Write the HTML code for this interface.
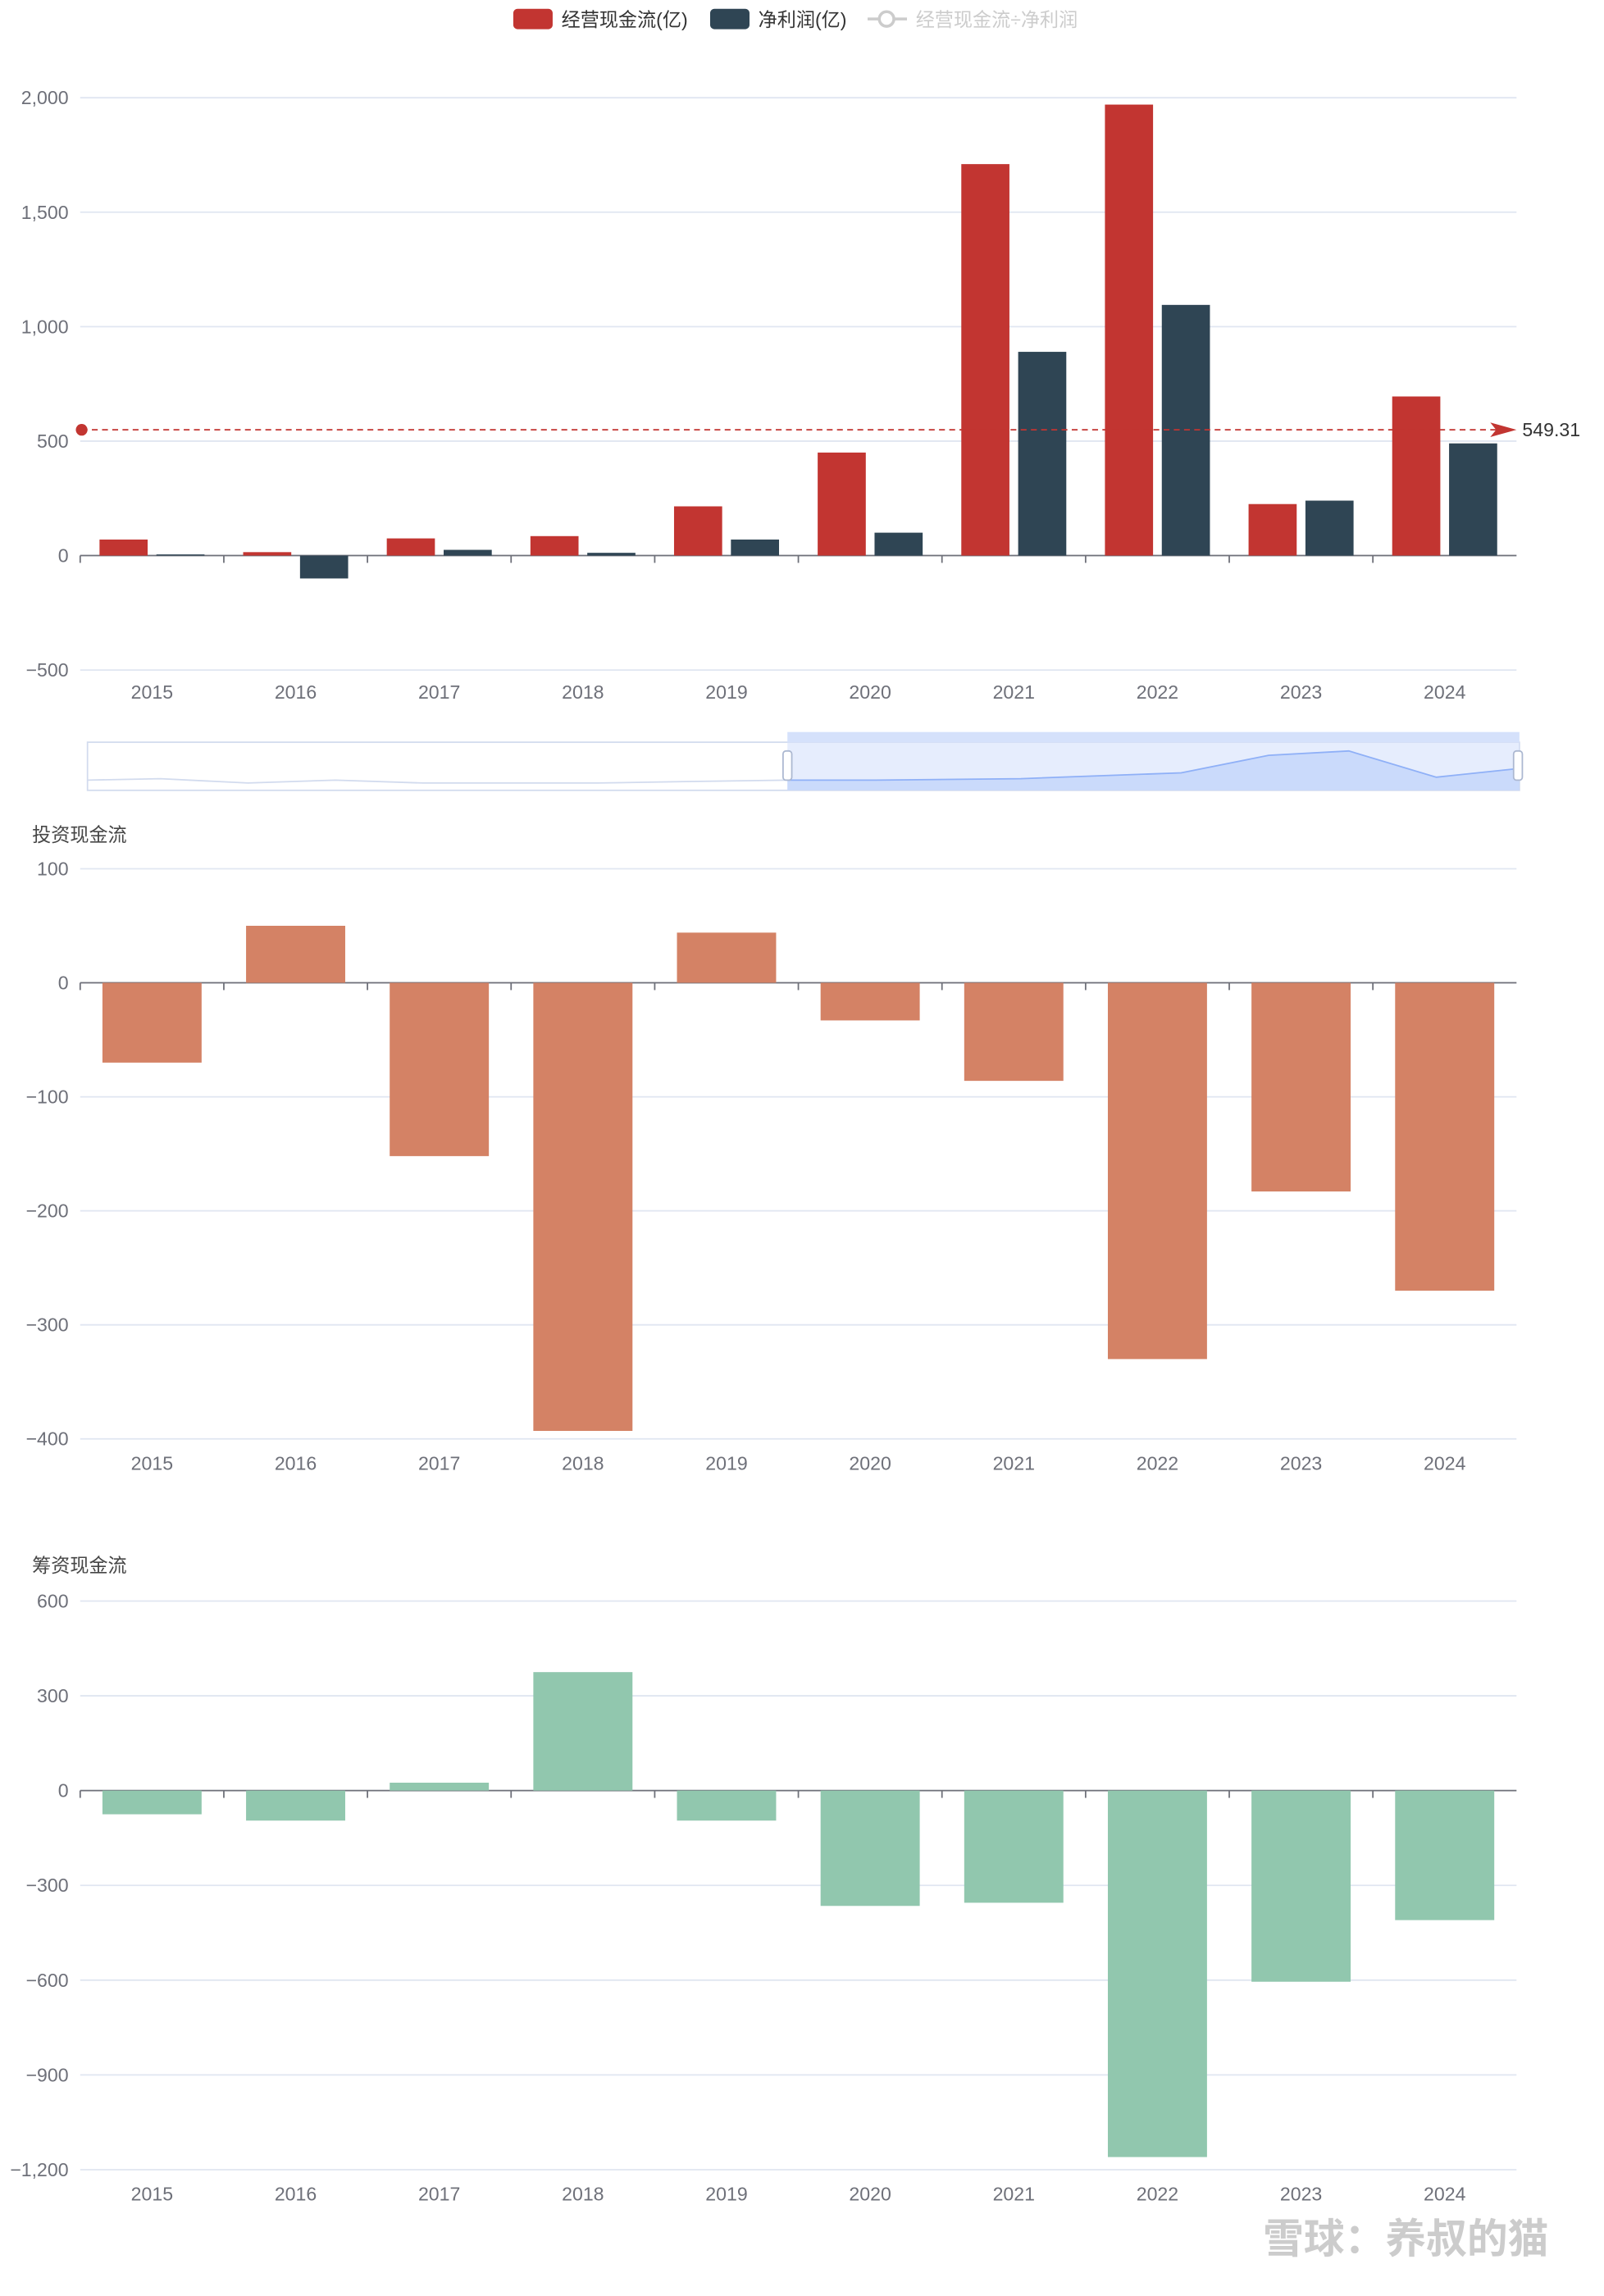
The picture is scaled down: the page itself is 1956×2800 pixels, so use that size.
<!DOCTYPE html>
<html><head><meta charset="utf-8"><style>
html,body{margin:0;padding:0;background:#fff;}
svg{display:block;font-family:"Liberation Sans","Noto Sans CJK SC",sans-serif;}
</style></head><body>
<svg id="svg" width="1956" height="2800" viewBox="0 0 1100 1574.6" xmlns="http://www.w3.org/2000/svg">
<g id="legend">
  <g><rect x="352" y="6" width="27" height="14" rx="3" fill="#c23531"/><text x="385" y="18" font-size="13" fill="#333">经营现金流(亿)</text></g>
  <g><rect x="487" y="6" width="27" height="14" rx="3" fill="#2f4554"/><text x="520" y="18" font-size="13" fill="#333">净利润(亿)</text></g>
  <g><line x1="595" y1="13" x2="622" y2="13" stroke="#ccc" stroke-width="2"/><circle cx="608" cy="13" r="5" fill="#fff" stroke="#ccc" stroke-width="2"/><text x="628" y="18" font-size="13" fill="#ccc">经营现金流÷净利润</text></g>
</g>
<g id="c1"></g>
<g id="zoom">
  <rect x="60" y="509" width="982" height="33" fill="none" stroke="#d2dbee"/>
  <path d="M60 535 L110 534 L170 537 L230 535 L290 537 L350 537 L410 537 L470 536 L540 535" stroke="#d2dbee" fill="none"/>
  <rect x="540" y="509" width="502" height="33" fill="#d5e1fb" opacity="0.6"/>
  <rect x="540" y="502" width="502" height="7" fill="#d5e1fb"/>
  <path d="M540 535 L600 535 L700 534 L810 530 L870 518 L925 515 L985 533 L1042 527 L1042 542 L540 542Z" fill="#c3d5fa" opacity="0.8"/>
  <path d="M540 535 L600 535 L700 534 L810 530 L870 518 L925 515 L985 533 L1042 527" stroke="#8fb0f7" fill="none"/>
  <rect x="537" y="515" width="6" height="20" rx="2" fill="#fff" stroke="#acb8d1"/>
  <rect x="1038" y="515" width="6" height="20" rx="2" fill="#fff" stroke="#acb8d1"/>
</g>
<g id="c2"></g>
<g id="c3"></g>
<text x="1062" y="1545" font-size="28" fill="#ccc" text-anchor="end" font-weight="bold">雪球：养叔的猫</text>
</svg>
<script>
const years=['2015','2016','2017','2018','2019','2020','2021','2022','2023','2024'];
const opCF=[70,15,75,85,215,450,1710,1970,225,695];
const netProfit=[5,-100,25,12,70,100,890,1095,240,490];
const avgOpCF=549.31;
const ticks1=[-500,0,500,1000,1500,2000];
const investCF=[-70,50,-152,-393,44,-33,-86,-330,-183,-270];
const ticks2=[-400,-300,-200,-100,0,100];
const financeCF=[-75,-95,25,375,-95,-365,-355,-1160,-605,-410];
const ticks3=[-1200,-900,-600,-300,0,300,600];

const NS='http://www.w3.org/2000/svg';
function mk(parent,tag,attrs,txt){const e=document.createElementNS(NS,tag);for(const k in attrs)e.setAttribute(k,attrs[k]);if(txt!==undefined)e.textContent=txt;parent.appendChild(e);return e;}
const x0=55,x1=1040,step=(x1-x0)/years.length;
const xc=i=>x0+step*(i+0.5);
function fmt(v){return (v<0?'−':'')+Math.abs(v).toLocaleString('en-US');}
function axes(g,ticks,y,yTop,yBot,labelY){
  ticks.forEach(t=>{
    const l=mk(g,'line',{x1:x0,x2:x1,y1:y(t),y2:y(t),stroke:'#e0e6f1'});
    
    
    const tx=mk(g,'text',{x:47,y:y(t)+4.5,'font-size':13,fill:'#6e7079','text-anchor':'end'},fmt(t));
    
    
  });
  const ax=mk(g,'line',{x1:x0,x2:x1,y1:y(0),y2:y(0),stroke:'#6e7079'});
  
  
  years.forEach((yr,i)=>{
    mk(g,'line',{x1:x0+step*i,x2:x0+step*i,y1:y(0),y2:y(0)+5,stroke:'#6e7079'});
    const t=mk(g,'text',{x:xc(i),y:labelY,'font-size':13,fill:'#6e7079','text-anchor':'middle'},yr);
    
    
  });
}
function bar(g,cx,w,v,y,color,name){
  const a=y(0),b=y(v);
  const r=mk(g,'rect',{x:cx-w/2,y:Math.min(a,b),width:w,height:Math.abs(a-b),fill:color});
  
  
}
// chart 1
(function(){
  const g=document.getElementById('c1');
  const y=v=>381-v*0.157;
  axes(g,ticks1,y,67,459,479);
  years.forEach((yr,i)=>{
    bar(g,xc(i)-19.5,33,opCF[i],y,'#c23531','bar-operating-cf-'+yr);
    bar(g,xc(i)+19.5,33,netProfit[i],y,'#2f4554','bar-net-profit-'+yr);
  });
  const ay=y(avgOpCF);
  const l=mk(g,'line',{x1:56,x2:1028,y1:ay,y2:ay,stroke:'#c23531','stroke-dasharray':'4,3'});
  
  
  mk(g,'circle',{cx:56,cy:ay,r:4,fill:'#c23531'});
  mk(g,'path',{d:`M1022 ${ay-5} L1040 ${ay} L1022 ${ay+5} L1026 ${ay}Z`,fill:'#c23531'});
  const t=mk(g,'text',{x:1044,y:ay+4.5,'font-size':13,fill:'#333'},avgOpCF.toFixed(2));
  
  
})();
// chart 2
(function(){
  const g=document.getElementById('c2');
  const y=v=>674-v*0.782;
  const tt=mk(g,'text',{x:22,y:577,'font-size':13,fill:'#464646'},'投资现金流');
  
  
  axes(g,ticks2,y,596,987,1008);
  years.forEach((yr,i)=>bar(g,xc(i),68,investCF[i],y,'#d48265','bar-investing-cf-'+yr));
})();
// chart 3
(function(){
  const g=document.getElementById('c3');
  const y=v=>1228-v*(130/600);
  const tt=mk(g,'text',{x:22,y:1078,'font-size':13,fill:'#464646'},'筹资现金流');
  
  
  axes(g,ticks3,y,1098,1489,1509);
  years.forEach((yr,i)=>bar(g,xc(i),68,financeCF[i],y,'#91c7ae','bar-financing-cf-'+yr));
})();
</script>
</body></html>
